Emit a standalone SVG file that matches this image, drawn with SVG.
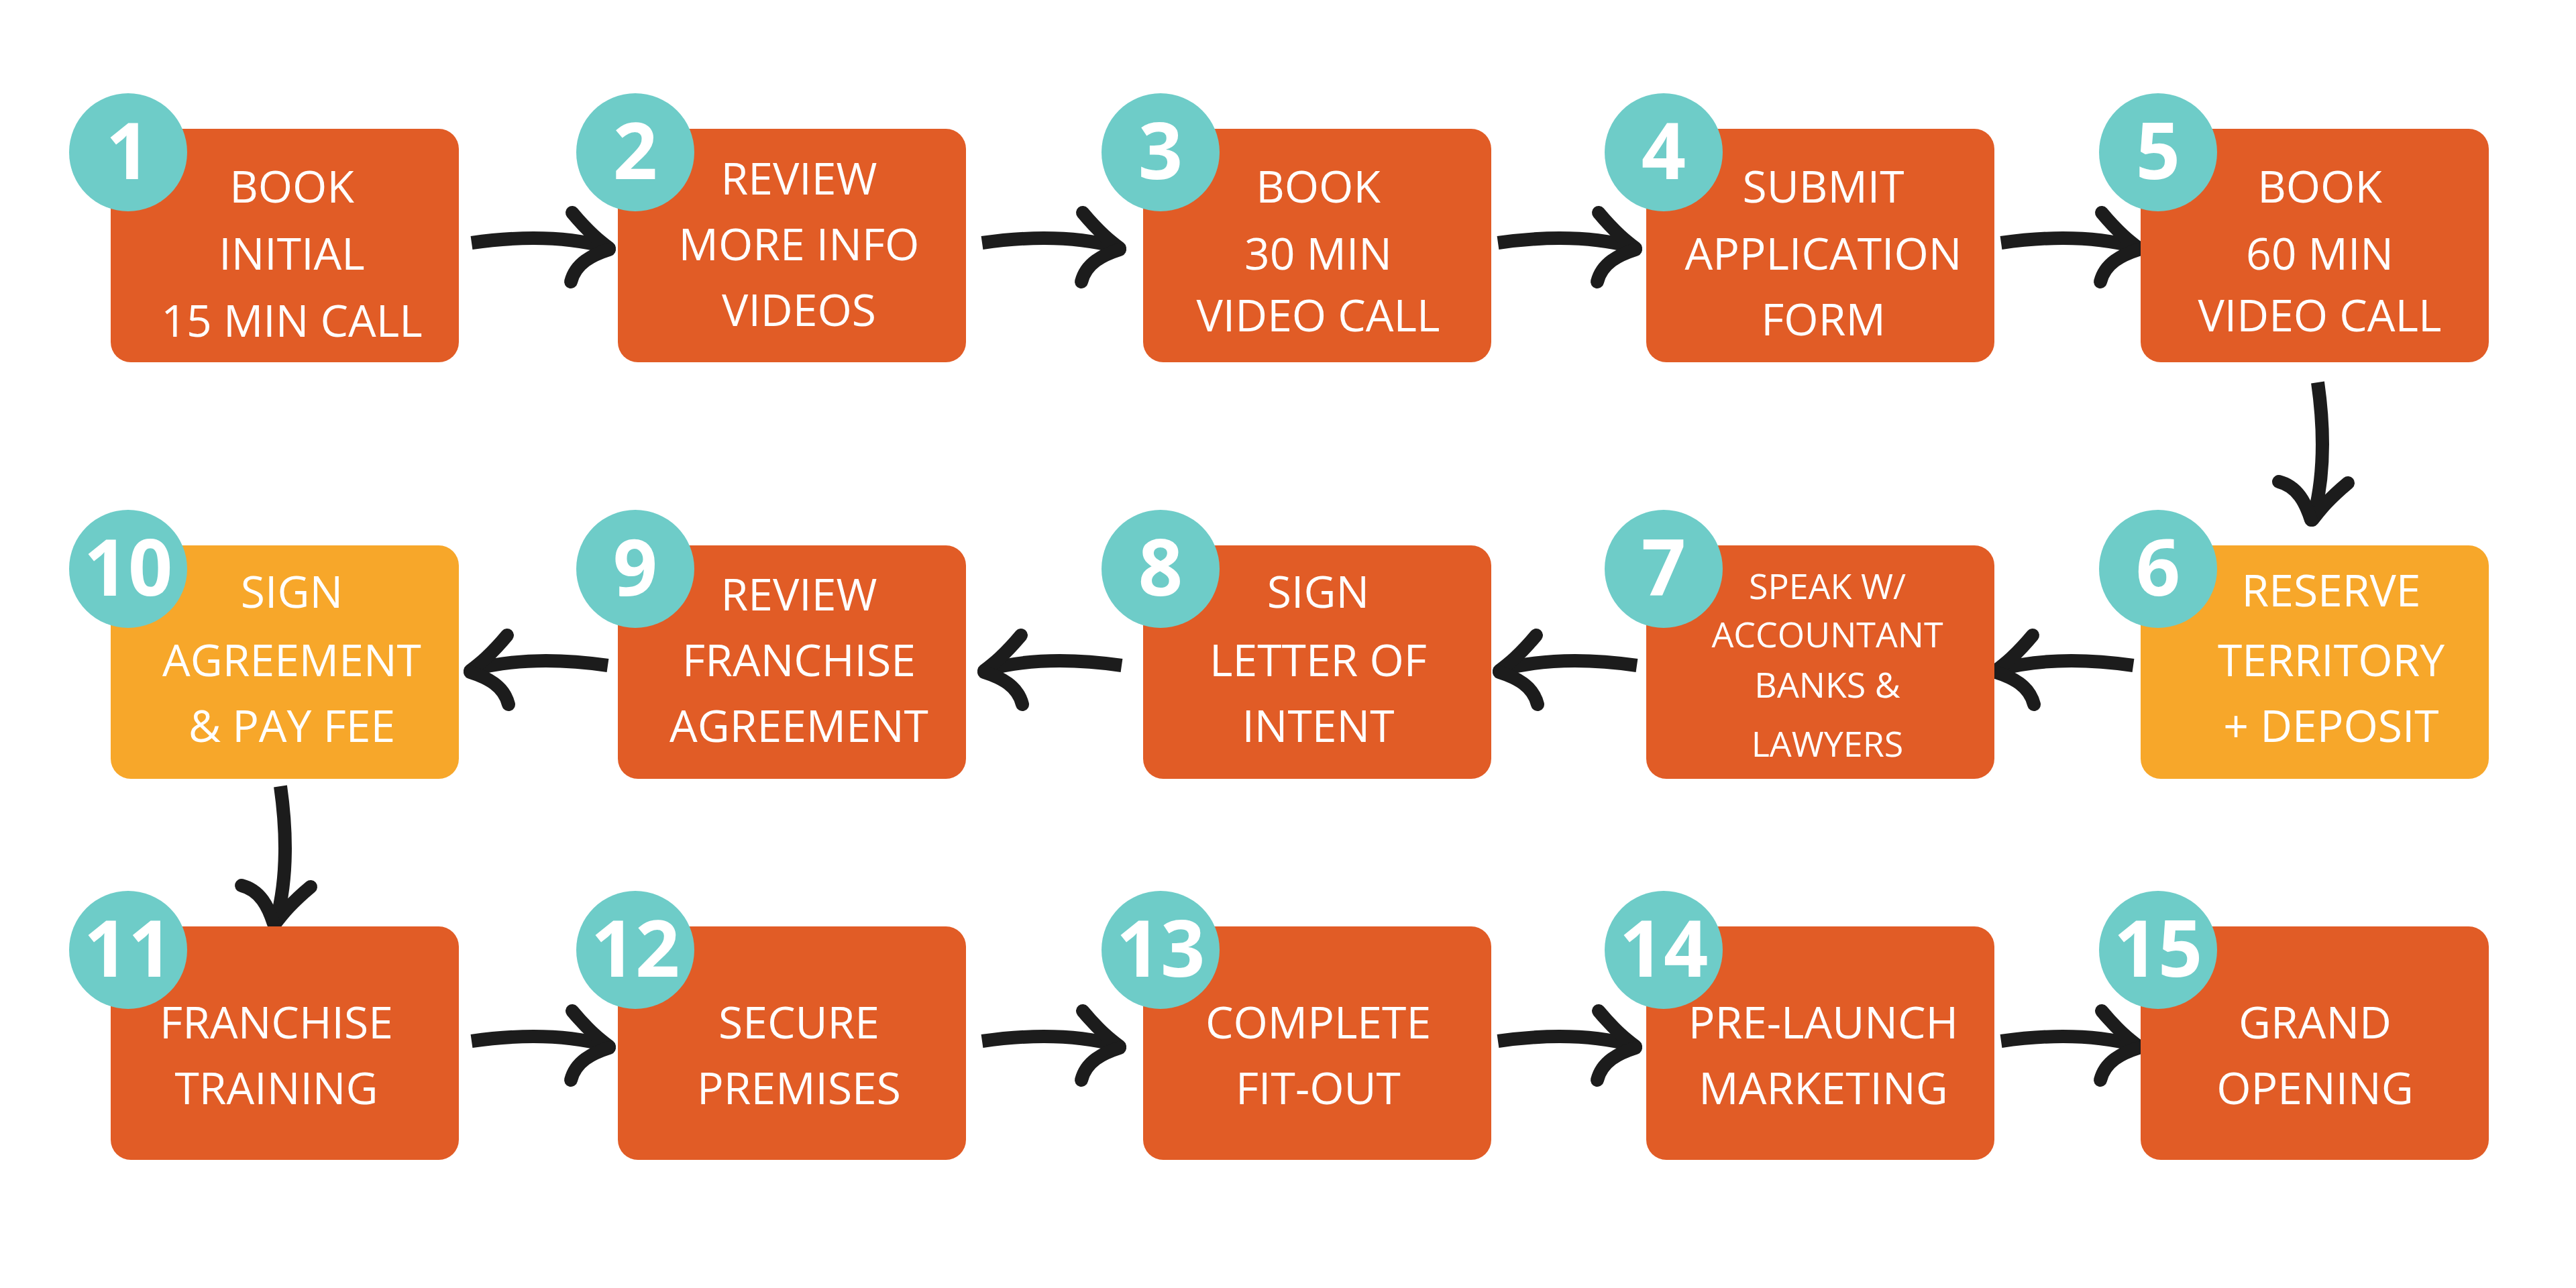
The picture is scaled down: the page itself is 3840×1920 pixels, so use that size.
<svg xmlns="http://www.w3.org/2000/svg" xmlns:xlink="http://www.w3.org/1999/xlink" width="3840" height="1920" viewBox="0 0 3840 1920">
<style>
.o{fill:#E15C26}.y{fill:#F7A72A}.c{fill:#6ECCC8}
.t{font-family:"Open Sans","Liberation Sans",sans-serif;font-size:66px;fill:#fff;text-anchor:middle}
.s{font-size:52px}
.n{font-family:"Open Sans","Liberation Sans",sans-serif;font-weight:bold;font-size:116px;fill:#fff;text-anchor:middle}
.a{fill:none;stroke:#1c1c1c;stroke-width:20}
</style>
<defs>
<symbol id="arr" overflow="visible">
<path class="a" d="M0,0 C70,-10 140,-10 200,6" stroke-linecap="butt"/>
<path class="a" d="M150,-45 C175,-15 192,-2 205,8" stroke-linecap="round"/>
<path class="a" d="M148,58 C155,30 180,18 205,10" stroke-linecap="round"/>
</symbol>
</defs>
<rect width="3840" height="1920" fill="#fff"/>
<g id="connectors">
<use xlink:href="#arr" x="703" y="362"/>
<use xlink:href="#arr" x="1464" y="362"/>
<use xlink:href="#arr" x="2233" y="362"/>
<use xlink:href="#arr" x="2983" y="362"/>
<use xlink:href="#arr" transform="translate(3455,570) rotate(90)"/>
<use xlink:href="#arr" transform="translate(3180,992) scale(-1,1)"/>
<use xlink:href="#arr" transform="translate(2440,992) scale(-1,1)"/>
<use xlink:href="#arr" transform="translate(1672,992) scale(-1,1)"/>
<use xlink:href="#arr" transform="translate(906,992) scale(-1,1)"/>
<use xlink:href="#arr" transform="translate(418,1172) rotate(90)"/>
<use xlink:href="#arr" x="703" y="1552"/>
<use xlink:href="#arr" x="1464" y="1552"/>
<use xlink:href="#arr" x="2233" y="1552"/>
<use xlink:href="#arr" x="2983" y="1552"/>
</g>
<g id="n1"><rect class="o" x="165" y="192" width="519" height="348" rx="30"/><circle class="c" cx="191" cy="227" r="88"/><text class="n" x="191" y="267">1</text><text class="t" x="435"><tspan x="435" y="302">BOOK</tspan><tspan x="435" y="402">INITIAL</tspan><tspan x="435" y="502">15 MIN CALL</tspan></text></g>
<g id="n2"><rect class="o" x="921" y="192" width="519" height="348" rx="30"/><circle class="c" cx="947" cy="227" r="88"/><text class="n" x="947" y="267">2</text><text class="t"><tspan x="1191" y="290">REVIEW</tspan><tspan x="1191" y="388">MORE INFO</tspan><tspan x="1191" y="486">VIDEOS</tspan></text></g>
<g id="n3"><rect class="o" x="1704" y="192" width="519" height="348" rx="30"/><circle class="c" cx="1730" cy="227" r="88"/><text class="n" x="1730" y="267">3</text><text class="t"><tspan x="1965" y="302">BOOK</tspan><tspan x="1965" y="402">30 MIN</tspan><tspan x="1965" y="494">VIDEO CALL</tspan></text></g>
<g id="n4"><rect class="o" x="2454" y="192" width="519" height="348" rx="30"/><circle class="c" cx="2480" cy="227" r="88"/><text class="n" x="2480" y="267">4</text><text class="t"><tspan x="2718" y="302">SUBMIT</tspan><tspan x="2718" y="402">APPLICATION</tspan><tspan x="2718" y="500">FORM</tspan></text></g>
<g id="n5"><rect class="o" x="3191" y="192" width="519" height="348" rx="30"/><circle class="c" cx="3217" cy="227" r="88"/><text class="n" x="3217" y="267">5</text><text class="t"><tspan x="3458" y="302">BOOK</tspan><tspan x="3458" y="402">60 MIN</tspan><tspan x="3458" y="494">VIDEO CALL</tspan></text></g>
<g id="n6"><rect class="y" x="3191" y="813" width="519" height="348" rx="30"/><circle class="c" cx="3217" cy="848" r="88"/><text class="n" x="3217" y="888">6</text><text class="t"><tspan x="3475" y="904">RESERVE</tspan><tspan x="3475" y="1008">TERRITORY</tspan><tspan x="3475" y="1106">+ DEPOSIT</tspan></text></g>
<g id="n7"><rect class="o" x="2454" y="813" width="519" height="348" rx="30"/><circle class="c" cx="2480" cy="848" r="88"/><text class="n" x="2480" y="888">7</text><text class="t s"><tspan x="2724" y="893">SPEAK W/</tspan><tspan x="2724" y="965">ACCOUNTANT</tspan><tspan x="2724" y="1040">BANKS &amp;</tspan><tspan x="2724" y="1128">LAWYERS</tspan></text></g>
<g id="n8"><rect class="o" x="1704" y="813" width="519" height="348" rx="30"/><circle class="c" cx="1730" cy="848" r="88"/><text class="n" x="1730" y="888">8</text><text class="t"><tspan x="1965" y="906">SIGN</tspan><tspan x="1965" y="1008">LETTER OF</tspan><tspan x="1965" y="1106">INTENT</tspan></text></g>
<g id="n9"><rect class="o" x="921" y="813" width="519" height="348" rx="30"/><circle class="c" cx="947" cy="848" r="88"/><text class="n" x="947" y="888">9</text><text class="t"><tspan x="1191" y="910">REVIEW</tspan><tspan x="1191" y="1008">FRANCHISE</tspan><tspan x="1191" y="1106">AGREEMENT</tspan></text></g>
<g id="n10"><rect class="y" x="165" y="813" width="519" height="348" rx="30"/><circle class="c" cx="191" cy="848" r="88"/><text class="n" x="191" y="888">10</text><text class="t"><tspan x="435" y="906">SIGN</tspan><tspan x="435" y="1008">AGREEMENT</tspan><tspan x="435" y="1106">&amp; PAY FEE</tspan></text></g>
<g id="n11"><rect class="o" x="165" y="1381" width="519" height="348" rx="30"/><circle class="c" cx="191" cy="1416" r="88"/><text class="n" x="191" y="1456">11</text><text class="t"><tspan x="412" y="1548">FRANCHISE</tspan><tspan x="412" y="1646">TRAINING</tspan></text></g>
<g id="n12"><rect class="o" x="921" y="1381" width="519" height="348" rx="30"/><circle class="c" cx="947" cy="1416" r="88"/><text class="n" x="947" y="1456">12</text><text class="t"><tspan x="1191" y="1548">SECURE</tspan><tspan x="1191" y="1646">PREMISES</tspan></text></g>
<g id="n13"><rect class="o" x="1704" y="1381" width="519" height="348" rx="30"/><circle class="c" cx="1730" cy="1416" r="88"/><text class="n" x="1730" y="1456">13</text><text class="t"><tspan x="1965" y="1548">COMPLETE</tspan><tspan x="1965" y="1646">FIT-OUT</tspan></text></g>
<g id="n14"><rect class="o" x="2454" y="1381" width="519" height="348" rx="30"/><circle class="c" cx="2480" cy="1416" r="88"/><text class="n" x="2480" y="1456">14</text><text class="t"><tspan x="2718" y="1548">PRE-LAUNCH</tspan><tspan x="2718" y="1646">MARKETING</tspan></text></g>
<g id="n15"><rect class="o" x="3191" y="1381" width="519" height="348" rx="30"/><circle class="c" cx="3217" cy="1416" r="88"/><text class="n" x="3217" y="1456">15</text><text class="t"><tspan x="3451" y="1548">GRAND</tspan><tspan x="3451" y="1646">OPENING</tspan></text></g>
</svg>
